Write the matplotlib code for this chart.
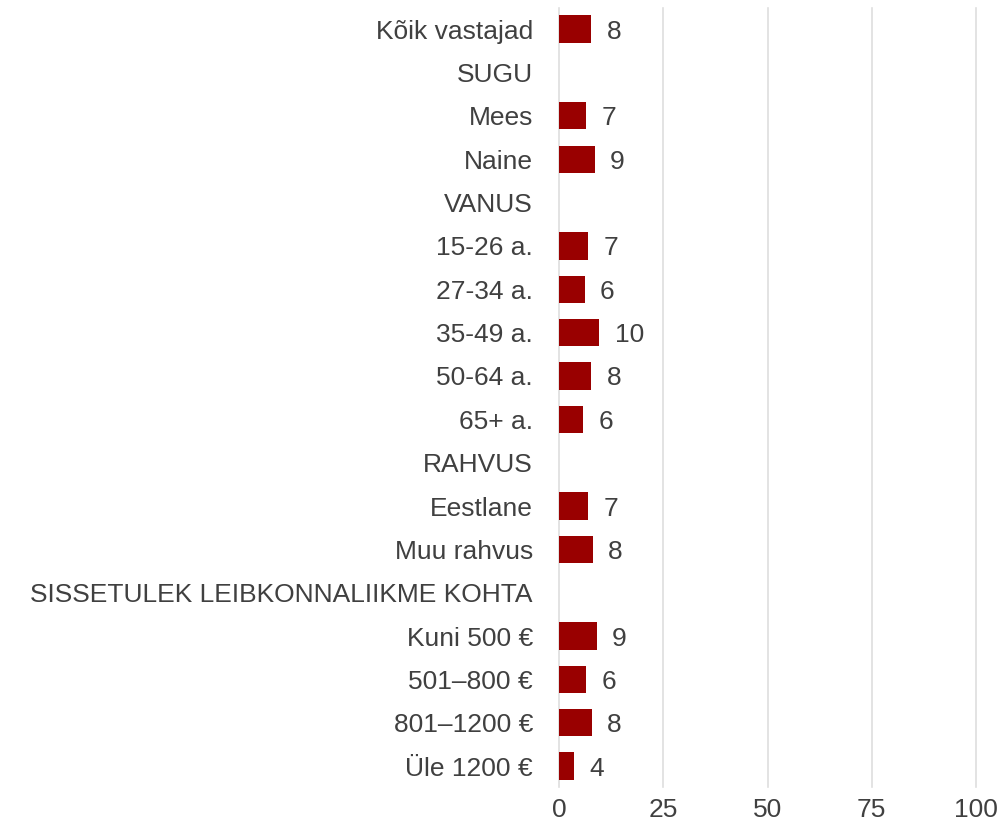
import numpy as np
import matplotlib.pyplot as plt

plt.rcParams['font.family'] = ['Liberation Sans', 'DejaVu Sans']

labels = ["Kõik vastajad", "SUGU", "Mees", "Naine", "VANUS", "15-26 a.", "27-34 a.",
          "35-49 a.", "50-64 a.", "65+ a.", "RAHVUS", "Eestlane", "Muu rahvus",
          "SISSETULEK LEIBKONNALIIKME KOHTA", "Kuni 500 €", "501–800 €", "801–1200 €",
          "Üle 1200 €"]
values = [7.7, None, 6.5, 8.5, None, 7.0, 6.1, 9.6, 7.7, 5.8, None, 7.0, 8.1,
          None, 9.0, 6.4, 7.8, 3.6]

fig = plt.figure(figsize=(10.06, 8.31), dpi=100)
ax = fig.add_axes([0.556, 0.053, 0.414, 0.937])

y = np.arange(len(labels))
for yi, v in zip(y, values):
    if v is None:
        continue
    ax.barh(yi, v, height=0.63, color="#990000", zorder=3)
    ax.annotate("%d" % int(v + 0.5), (v, yi), xytext=(11, 0), textcoords="offset points",
                va="center_baseline", ha="left", fontsize=19, color="#404040")

ax.set_yticks(y)
ax.set_yticklabels(labels, fontsize=19, color="#404040")
ax.set_ylim(len(labels) - 0.52, -0.48)
ax.set_xlim(0, 100)
ax.set_xticks([0, 25, 50, 75, 100])
ax.tick_params(axis="x", labelsize=19, labelcolor="#404040", length=0, pad=8)
ax.tick_params(axis="y", length=0, pad=19)
ax.grid(axis="x", color="#dedede", lw=1.2, zorder=0)
for line in ax.get_xgridlines():
    line.set_clip_on(False)
for s in ax.spines.values():
    s.set_visible(False)

plt.savefig("out.png", dpi=100)
